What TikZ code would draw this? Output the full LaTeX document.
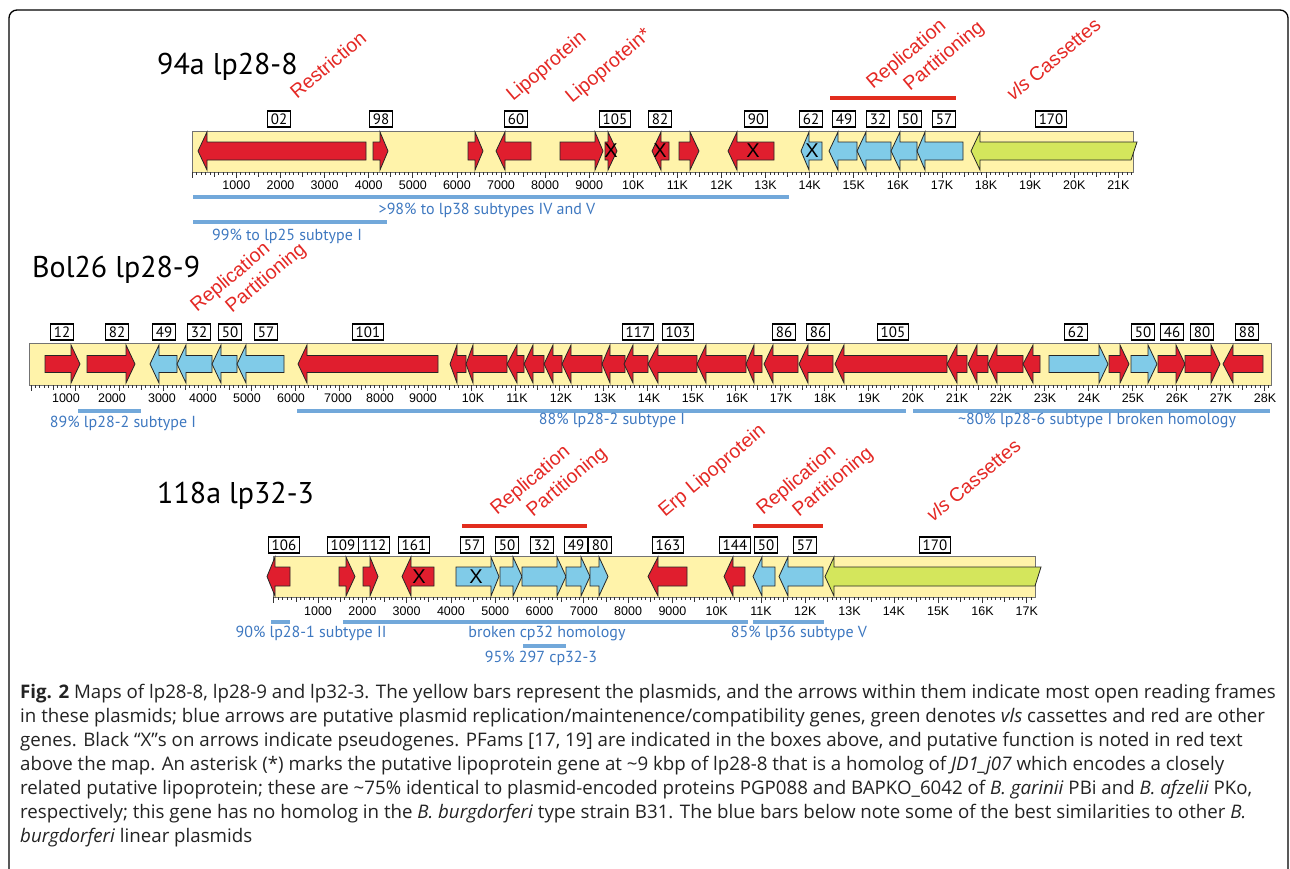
\documentclass[tikz,border=0pt]{standalone}
\usepackage{fontspec}
\setmainfont{PT Sans}
\newfontfamily\arialf{Liberation Sans}
\newfontfamily\capf{Open Sans}
\definecolor{pyellow}{RGB}{255,243,170}
\definecolor{gred}{RGB}{224,30,46}
\definecolor{gblue}{RGB}{128,203,232}
\definecolor{ggreen}{RGB}{212,230,92}
\definecolor{tred}{RGB}{228,40,36}
\definecolor{lred}{RGB}{226,45,30}
\definecolor{bbar}{RGB}{114,168,218}
\definecolor{btext}{RGB}{62,120,192}
\definecolor{captxt}{RGB}{35,35,35}
\def\gcy{0}\def\gbh{9}\def\ghh{19}
\newcommand\gn[4]{\draw[gene, fill=#1] (#2,\gcy-\gbh) -- (#3,\gcy-\gbh) -- (#3,\gcy-\ghh) -- (#4,\gcy) -- (#3,\gcy+\ghh) -- (#3,\gcy+\gbh) -- (#2,\gcy+\gbh) -- cycle;}
\newcommand\xm[1]{\node[xmark] at (#1,\gcy) {X};}
\newcommand\ruler[4]{\foreach \i in {0,...,#3}{\pgfmathsetmacro\tkl{ifthenelse(mod(\i,10)==0,6,ifthenelse(mod(\i,5)==0,4.5,2.8))}\draw[tick] ({#1+\i*#2/10},#4) -- ++(0,\tkl);}}
\begin{document}
\begin{tikzpicture}[x=1pt,y=-1pt,
  plasmid/.style={fill=pyellow, draw=black!55, line width=1},
  gene/.style={draw=black!85, line width=0.8, line join=miter},
  xmark/.style={font=\arialf\fontsize{20}{20}\selectfont, inner sep=0},
  pfam/.style={draw=black, line width=1.3, fill=white, inner xsep=3.5, inner ysep=0, minimum height=16, font=\fontsize{15}{15}\selectfont},
  flab/.style={text=tred, rotate=40, anchor=base west, font=\arialf\fontsize{19.5}{20}\selectfont, inner sep=0},
  tick/.style={line width=0.7, draw=black!80},
  ticklab/.style={font=\arialf\fontsize{12.5}{13}\selectfont, inner sep=0},
  simbar/.style={draw=bbar, line width=4.5},
  simlab/.style={text=btext, font=\fontsize{16}{16}\selectfont, inner sep=0},
  funcline/.style={draw=lred, line width=4.5},
  maptitle/.style={font=\fontsize{30}{32}\selectfont, anchor=base west, inner sep=0},
  capline/.style={anchor=base west, inner sep=0, text=captxt, font=\capf\fontsize{18.7}{20}\selectfont}]
\useasboundingbox (0,0) rectangle (1290,868);
\clip (0,0) rectangle (1290,868);
\draw[line width=1.3, rounded corners=8] (9,900) -- (9,10) -- (1288,10) -- (1288,900);

% ================= Map 1: 94a lp28-8
\node[maptitle] (t1) at (157,74) {94a lp28-8};
\draw[plasmid] (192,131) rectangle (1133,172);
\ruler{192.3}{44.1}{213}{172}
\foreach \k in {1,...,9} \node[ticklab] (m1l\k) at ({192.3+44.1*\k},185) {\k000};
\foreach \k in {10,...,21} \node[ticklab] (m1l\k) at ({192.3+44.1*\k},185) {\k K};
\def\gcy{151}\def\gbh{9}\def\ghh{19}
\gn{gred}{366}{207}{198}
\gn{gred}{373}{380}{388}
\gn{gred}{468}{475}{483}
\gn{gred}{531}{505}{496}
\gn{gred}{560}{595}{603}
\gn{gred}{605}{608}{617}\xm{611}
\gn{gred}{669}{661}{652}\xm{660}
\gn{gred}{679}{690}{699}
\gn{gred}{774}{737}{728}\xm{753}
\gn{gblue}{822}{809}{801}\xm{812}
\gn{gblue}{857}{838}{829}
\gn{gblue}{891}{866}{857}
\gn{gblue}{917}{900}{891}
\gn{gblue}{963}{925}{917}
\draw[gene, fill=ggreen] (1137,\gcy-\gbh) -- (980,\gcy-\gbh) -- (980,\gcy-\ghh) -- (971,\gcy) -- (980,\gcy+\ghh) -- (980,\gcy+\gbh) -- (1131,\gcy+\gbh) -- cycle;
\foreach \p/\t [count=\n] in {279/02,381/98,516/60,615/105,660/82,756/90,811/62,844/49,878/32,910/50,944/57,1051/170}
  \node[pfam] (m1b\n) at (\p,119) {\t};
\node[flab] (m1f1) at (297,100) {Restriction};
\node[flab] (m1f2) at (513,102) {Lipoprotein};
\node[flab] (m1f3) at (572,104) {Lipoprotein*};
\node[flab] (m1f4) at (873,90) {Replication};
\node[flab] (m1f5) at (910,92) {Partitioning};
\node[flab] (m1f6) at (1013,102) {\textit{vls} Cassettes};
\draw[funcline] (830,98) -- (956,98);
\draw[simbar] (193,197) -- (789,197);
\node[simlab] (m1s1) at (487,210) {>98\% to lp38 subtypes IV and V};
\draw[simbar] (193,222) -- (387,222);
\node[simlab] (m1s2) at (287,236) {99\% to lp25 subtype I};

% ================= Map 2: Bol26 lp28-9
\node[maptitle] (t2) at (32,277) {Bol26 lp28-9};
\draw[plasmid] (29,343) rectangle (1271,385);
\ruler{31}{44.05}{281}{385}
\foreach \p/\t [count=\n] in {66/1000,112/2000,162/3000,203/4000,247/5000,291/6000,338/7000,380/8000,423/9000}
  \node[ticklab] (m2l\n) at (\p,398) {\t};
\foreach \k in {10,...,28} \node[ticklab] (m2l\k) at ({473+44*(\k-10)},398) {\k K};
\def\gcy{364}\def\gbh{8.5}\def\ghh{19}
\gn{gred}{45}{71}{80}
\gn{gred}{87}{126}{135}
\gn{gblue}{177}{159}{150}
\gn{gblue}{212}{186}{177}
\gn{gblue}{237}{221}{212}
\gn{gblue}{284}{246}{237}
\gn{gred}{438}{307}{298}
\gn{gred}{466}{457}{450}
\gn{gred}{507}{473}{466}
\gn{gred}{524}{517}{507}
\gn{gred}{544}{533}{524}
\gn{gred}{562}{553}{544}
\gn{gred}{602}{571}{562}
\gn{gred}{625}{610}{602}
\gn{gred}{648}{633}{624}
\gn{gred}{697}{658}{648}
\gn{gred}{746}{706}{697}
\gn{gred}{762}{754}{746}
\gn{gred}{798}{773}{764}
\gn{gred}{833}{808}{799}
\gn{gred}{947}{844}{835}
\gn{gred}{967}{957}{947}
\gn{gred}{988}{977}{968}
\gn{gred}{1023}{997}{988}
\gn{gred}{1040}{1033}{1023}
\gn{gblue}{1049}{1099}{1108}
\gn{gred}{1109}{1120}{1129}
\gn{gblue}{1131}{1148}{1157}
\gn{gred}{1158}{1176}{1185}
\gn{gred}{1185}{1211}{1220}
\gn{gred}{1263}{1233}{1223}
\foreach \p/\t [count=\n] in {62/12,117/82,164/49,199/32,230/50,266/57,368/101,638/117,678/103,784/86,818/86,893/105,1076/62,1143/50,1172/46,1202/80,1247/88}
  \node[pfam] (m2b\n) at (\p,332) {\t};
\node[flab] (m2f1) at (197,313) {Replication};
\node[flab] (m2f2) at (232,314) {Partitioning};
\draw[simbar] (78,411) -- (141,411);
\node[simlab] (m2s1) at (123,423) {89\% lp28-2 subtype I};
\draw[simbar] (297,411) -- (906,411);
\node[simlab] (m2s2) at (612,420) {88\% lp28-2 subtype I};
\draw[simbar] (913,411) -- (1270,411);
\node[simlab] (m2s3) at (1097,420) {\textasciitilde80\% lp28-6 subtype I broken homology};

% ================= Map 3: 118a lp32-3
\node[maptitle] (t3) at (157,503) {118a lp32-3};
\draw[plasmid] (273,556) rectangle (1035,597);
\ruler{273.7}{44.3}{171}{597}
\foreach \k in {1,...,9} \node[ticklab] (m3l\k) at ({273.7+44.3*\k},611) {\k000};
\foreach \k in {10,...,17} \node[ticklab] (m3l\k) at ({273.7+44.3*\k},611) {\k K};
\def\gcy{576.5}\def\gbh{9.5}\def\ghh{19.5}
\gn{gred}{290}{275}{267}
\gn{gred}{339}{346}{355}
\gn{gred}{363}{370}{378}
\gn{gred}{434}{411}{402}\xm{419}
\gn{gblue}{456}{491}{499}\xm{476}
\gn{gblue}{500}{513}{522}
\gn{gblue}{522}{557}{566}
\gn{gblue}{566}{581}{590}
\gn{gblue}{590}{599}{608}
\gn{gred}{687}{658}{648}
\gn{gred}{745}{733}{724}
\gn{gblue}{775}{762}{753}
\gn{gblue}{823}{788}{779}
\draw[gene, fill=ggreen] (1041,\gcy-\gbh) -- (834,\gcy-\gbh) -- (834,\gcy-\ghh) -- (825,\gcy) -- (834,\gcy+\ghh) -- (834,\gcy+\gbh) -- (1035,\gcy+\gbh) -- cycle;
\foreach \p/\t [count=\n] in {284/106,343/109,374/112,414/161,472/57,507/50,542/32,576/49,600/80,668/163,735/144,766/50,805/57,935/170}
  \node[pfam] (m3b\n) at (\p,545) {\t};
\node[flab] (m3f1) at (497,516) {Replication};
\node[flab] (m3f2) at (533,518) {Partitioning};
\node[flab] (m3f3) at (665,518) {Erp Lipoprotein};
\node[flab] (m3f4) at (763,516) {Replication};
\node[flab] (m3f5) at (799,518) {Partitioning};
\node[flab] (m3f6) at (933,523) {\textit{vls} Cassettes};
\draw[funcline] (462,526) -- (587,526);
\draw[funcline] (753,526) -- (823,526);
\draw[simbar] (271,622) -- (290,622);
\node[simlab] (m3s1) at (311,633) {90\% lp28-1 subtype II};
\draw[simbar] (343,622) -- (748,622);
\node[simlab] (m3s2) at (547,633) {broken cp32 homology};
\draw[simbar] (523,646) -- (566,646);
\node[simlab] (m3s3) at (541,658) {95\% 297 cp32-3};
\draw[simbar] (753,622) -- (824,622);
\node[simlab] (m3s4) at (799,633) {85\% lp36 subtype V};

% ================= Caption
\node[capline] (c1) at (20,698) {\textbf{Fig. 2} Maps of lp28-8, lp28-9 and lp32-3. The yellow bars represent the plasmids, and the arrows within them indicate most open reading frames};
\node[capline] (c2) at (20,722) {in these plasmids; blue arrows are putative plasmid replication/maintenence/compatibility genes, green denotes \textit{vls} cassettes and red are other};
\node[capline] (c3) at (20,746) {genes. Black “X”s on arrows indicate pseudogenes. PFams [17, 19] are indicated in the boxes above, and putative function is noted in red text};
\node[capline] (c4) at (20,770) {above the map. An asterisk (*) marks the putative lipoprotein gene at \textasciitilde9 kbp of lp28-8 that is a homolog of \textit{JD1\_j07} which encodes a closely};
\node[capline] (c5) at (20,794) {related putative lipoprotein; these are \textasciitilde75\% identical to plasmid-encoded proteins PGP088 and BAPKO\_6042 of \textit{B. garinii} PBi and \textit{B. afzelii} PKo,};
\node[capline] (c6) at (20,818) {respectively; this gene has no homolog in the \textit{B. burgdorferi} type strain B31. The blue bars below note some of the best similarities to other \textit{B.}};
\node[capline] (c7) at (20,842) {\textit{burgdorferi} linear plasmids};
\end{tikzpicture}
\end{document}
